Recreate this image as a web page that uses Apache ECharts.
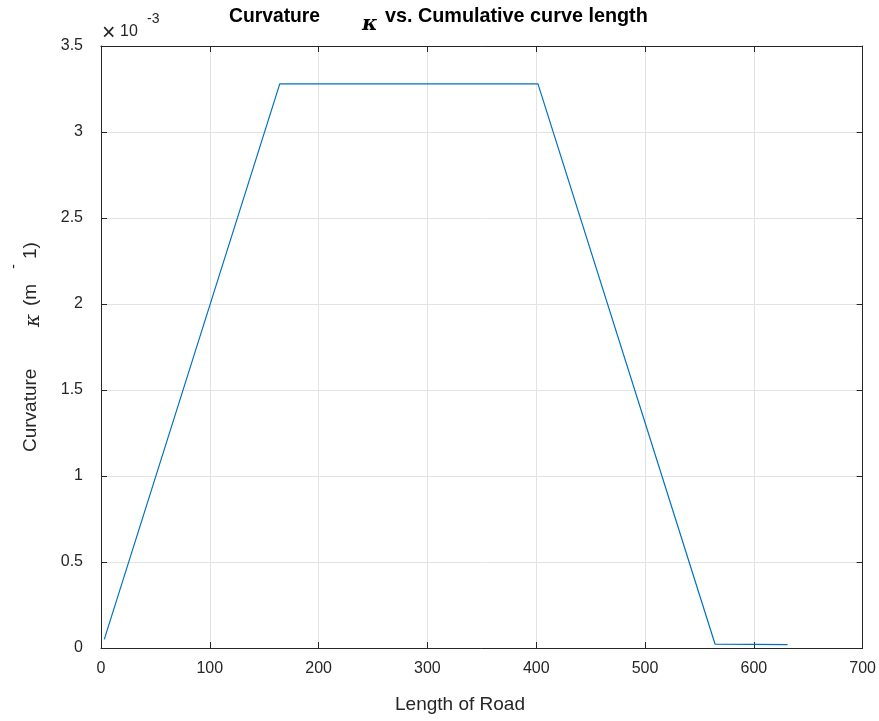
<!DOCTYPE html>
<html>
<head>
<meta charset="utf-8">
<script src="https://cdn.jsdelivr.net/npm/echarts@6/dist/echarts.min.js"></script>
<style>
  html, body { margin: 0; padding: 0; background: #fff; }
  #main { width: 879px; height: 721px; }
</style>
</head>
<body>
<div id="main"></div>
<script>
// road length (m) and curvature (x 10^-3 1/m)
var roadLength = [3, 164.3, 401.6, 564.4, 631];
var curvature = [0.05, 3.28, 3.28, 0.022, 0.02];
var xTicks = [0, 100, 200, 300, 400, 500, 600, 700];
var yTicks = [0, 0.5, 1, 1.5, 2, 2.5, 3, 3.5];

var points = roadLength.map(function (x, i) { return [x, curvature[i]]; });

var font = 'Liberation Sans, Arial, Helvetica, sans-serif';
var ink = '#262626';

var chart = echarts.init(document.getElementById('main'));

var baseX = {
    type: 'value',
    min: xTicks[0],
    max: xTicks[xTicks.length - 1],
    interval: 100,
    axisLine: { show: true, onZero: false, lineStyle: { color: ink, width: 1 } },
    axisTick: { show: true, inside: true, length: 6, lineStyle: { color: ink } },
    splitLine: { show: false }
};
var baseY = {
    type: 'value',
    min: yTicks[0],
    max: yTicks[yTicks.length - 1],
    interval: 0.5,
    axisLine: { show: true, onZero: false, lineStyle: { color: ink, width: 1 } },
    axisTick: { show: true, inside: true, length: 6, lineStyle: { color: ink } },
    splitLine: { show: false }
};

var option = {
    backgroundColor: '#fff',
    animation: false,
    grid: { left: 101, right: 14, top: 46, bottom: 73, show: false },
    xAxis: [
        Object.assign({}, baseX, {
            position: 'bottom',
            axisLabel: { fontFamily: font, fontSize: 16, color: ink, margin: 13 },
            splitLine: { show: true, lineStyle: { color: '#e3e3e3', width: 1 } }
        }),
        Object.assign({}, baseX, { position: 'top', axisLabel: { show: false } })
    ],
    yAxis: [
        Object.assign({}, baseY, {
            position: 'left',
            axisLabel: {
                fontFamily: font, fontSize: 16, color: ink, margin: 18,
                formatter: function (v) { return String(v); }
            },
            splitLine: { show: true, lineStyle: { color: '#e3e3e3', width: 1 } }
        }),
        Object.assign({}, baseY, { position: 'right', axisLabel: { show: false } })
    ],
    graphic: [
        // title
        { type: 'text', left: 229, top: 7, style: { text: 'Curvature', font: 'bold 19.3px ' + font, fill: '#000' } },
        { type: 'text', left: 362, top: 14, style: { text: 'κ', font: 'italic bold 21px DejaVu Serif, serif', fill: '#000' } },
        { type: 'text', left: 385, top: 7, style: { text: 'vs. Cumulative curve length', font: 'bold 19.8px ' + font, fill: '#000' } },
        // exponent
        { type: 'text', left: 102, top: 22, style: { text: '×', font: '23px ' + font, fill: ink } },
        { type: 'text', left: 120, top: 24, style: { text: '10', font: '16px ' + font, fill: ink } },
        { type: 'text', left: 147, top: 12, style: { text: '-3', font: '14px ' + font, fill: ink } },
        // x axis label
        { type: 'text', x: 460, y: 705, style: { text: 'Length of Road', font: '19px ' + font, fill: ink, align: 'center', verticalAlign: 'middle' } },
        // y axis label pieces (rotated)
        { type: 'text', x: 21, y: 452, rotation: Math.PI / 2, style: { text: 'Curvature', font: '19px ' + font, fill: ink } },
        { type: 'text', x: 24, y: 327, rotation: Math.PI / 2, style: { text: 'κ', font: 'italic 20px DejaVu Serif, serif', fill: ink } },
        { type: 'text', x: 21, y: 306, rotation: Math.PI / 2, style: { text: '(m', font: '19px ' + font, fill: ink } },
        { type: 'text', x: 6, y: 269, rotation: Math.PI / 2, style: { text: '-', font: '15px ' + font, fill: ink } },
        { type: 'text', x: 21, y: 259, rotation: Math.PI / 2, style: { text: '1)', font: '19px ' + font, fill: ink } }
    ],
    series: [{
        type: 'line',
        data: points,
        showSymbol: false,
        symbol: 'none',
        lineStyle: { color: '#0072BD', width: 1.2 },
        z: 3
    }]
};

chart.setOption(option);
</script>
</body>
</html>
